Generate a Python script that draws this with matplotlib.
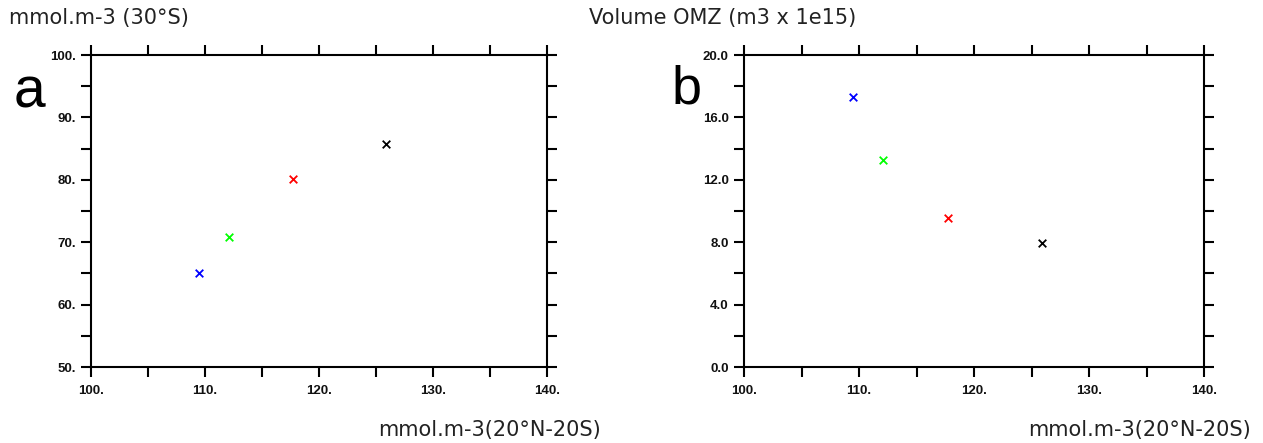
import matplotlib
matplotlib.use("Agg")
import matplotlib.pyplot as plt
from matplotlib.ticker import MultipleLocator, FixedLocator, FixedFormatter

# Data
x_tropics = [109.5, 112.1, 117.7, 125.9]
y_30s = [65.0, 70.9, 80.1, 85.7]
y_omz = [17.3, 13.3, 9.55, 7.95]
colors = ["#0000ff", "#00ff00", "#ff0000", "#000000"]

xticks = [100, 110, 120, 130, 140]
xticklabels = ["100.", "110.", "120.", "130.", "140."]
a_yticks = [50, 60, 70, 80, 90, 100]
a_yticklabels = ["50.", "60.", "70.", "80.", "90.", "100."]
b_yticks = [0, 4, 8, 12, 16, 20]
b_yticklabels = ["0.0", "4.0", "8.0", "12.0", "16.0", "20.0"]

W, H = 1263, 443
fig = plt.figure(figsize=(W / 100, H / 100), dpi=100)

def px_axes(l, r, t, b):
    return fig.add_axes([l / W, 1 - b / H, (r - l) / W, (b - t) / H])

ax_a = px_axes(91, 547, 55, 367)
ax_b = px_axes(744, 1204, 55, 367)

def style(ax, yticks, ylabels, ymin, ymax, yminor):
    ax.set_xlim(100, 140)
    ax.set_ylim(ymin, ymax)
    ax.xaxis.set_major_locator(FixedLocator(xticks))
    ax.xaxis.set_major_formatter(FixedFormatter(xticklabels))
    ax.xaxis.set_minor_locator(MultipleLocator(5))
    ax.yaxis.set_major_locator(FixedLocator(yticks))
    ax.yaxis.set_major_formatter(FixedFormatter(ylabels))
    ax.yaxis.set_minor_locator(MultipleLocator(yminor))
    for s in ax.spines.values():
        s.set_linewidth(1.5)
    ax.tick_params(which="both", direction="out", length=7, width=1.5,
                   top=True, right=True, labeltop=False, labelright=False)
    ax.tick_params(axis="x", which="major", labelsize=9.5, pad=6)
    ax.tick_params(axis="y", which="major", labelsize=9.5, pad=4)
    for lab in ax.get_xticklabels() + ax.get_yticklabels():
        lab.set_family("Liberation Sans")
        lab.set_fontweight("bold")
        lab.set_color("#111111")

style(ax_a, a_yticks, a_yticklabels, 50, 100, 5)
style(ax_b, b_yticks, b_yticklabels, 0, 20, 2)

for xv, yv, c in zip(x_tropics, y_30s, colors):
    ax_a.scatter(xv, yv, marker="x", s=30, color=c, linewidths=1.3)
for xv, yv, c in zip(x_tropics, y_omz, colors):
    ax_b.scatter(xv, yv, marker="x", s=30, color=c, linewidths=1.3)

def ftext(x, y, s, **kw):
    fig.text(x / W, 1 - y / H, s, **kw)

ftext(9, 18, "mmol.m-3 (30°S)", fontsize=15, va="center", ha="left", color="#222222")
ftext(589, 18, "Volume OMZ (m3 x 1e15)", fontsize=15, va="center", ha="left", color="#222222")
ftext(601, 430, "mmol.m-3(20°N-20S)", fontsize=15, va="center", ha="right", color="#222222")
ftext(1251, 430, "mmol.m-3(20°N-20S)", fontsize=15, va="center", ha="right", color="#222222")
ftext(14, 107, "a", fontsize=41, va="baseline", ha="left", family="Liberation Sans")
ftext(672, 104, "b", fontsize=39, va="baseline", ha="left", family="Liberation Sans")

fig.savefig("out.png", dpi=100)
